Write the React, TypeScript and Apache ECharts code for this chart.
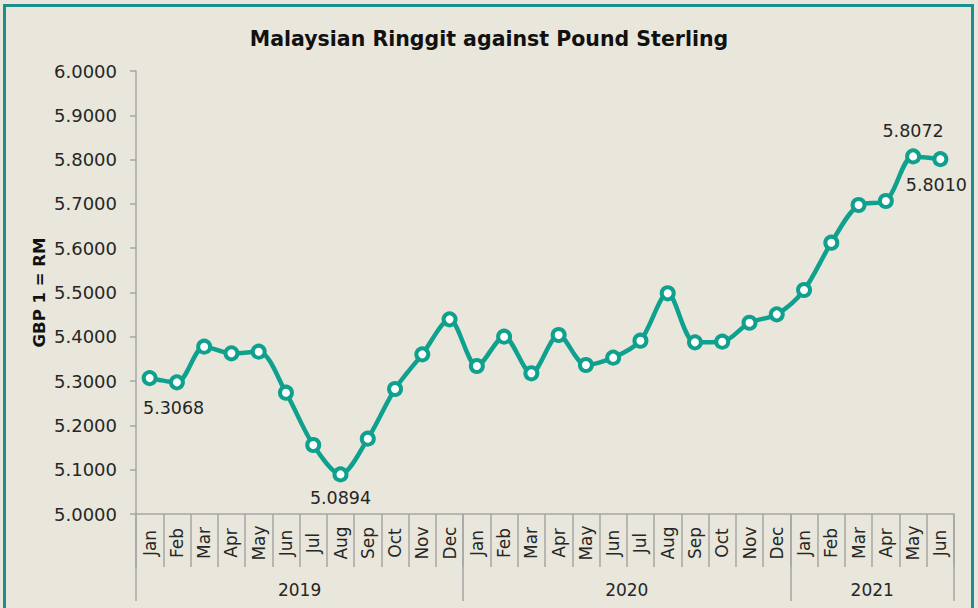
import React, { useEffect, useRef } from "react";
import * as echarts from "echarts";

const months = [
  "Jan", "Feb", "Mar", "Apr", "May", "Jun", "Jul", "Aug", "Sep", "Oct", "Nov", "Dec",
  "Jan", "Feb", "Mar", "Apr", "May", "Jun", "Jul", "Aug", "Sep", "Oct", "Nov", "Dec",
  "Jan", "Feb", "Mar", "Apr", "May", "Jun",
];
const years = ["2019", "2020", "2021"];
const monthsPerYear = [12, 12, 6];
const rates = [
  5.3068, 5.2972, 5.3777, 5.3627, 5.3664, 5.2738, 5.1558, 5.0894, 5.1700, 5.2822, 5.3604, 5.4394,
  5.3340, 5.4003, 5.3176, 5.4040, 5.3363, 5.3529, 5.3912, 5.4982, 5.3875, 5.3890, 5.4318, 5.4507,
  5.5056, 5.6124, 5.6975, 5.7065, 5.8072, 5.8010,
];
const yTicksMin = 5.0;
const yTicksMax = 6.0;
const yTickStep = 0.1;
const labelled: Record<number, { position: string; distance: number; offset?: number[] }> = {
  0: { position: "bottom", distance: 13, offset: [24, 0] },
  7: { position: "bottom", distance: 7 },
  28: { position: "top", distance: 8 },
  29: { position: "bottom", distance: 9, offset: [-4, 0] },
};

const FONT = "DejaVu Sans";
const TEAL = "#0FA18D";
const GREY = "#A6A6A6";
const TXT = "#262626";

export default function App() {
  const ref = useRef<HTMLDivElement>(null);
  useEffect(() => {
    if (!ref.current) return;
    const chart = echarts.init(ref.current, null, { renderer: "svg" });

    const bounds: number[] = [0];
    monthsPerYear.forEach((n) => bounds.push(bounds[bounds.length - 1] + n));
    const mids: number[] = years.map((_, i) => (bounds[i] + bounds[i + 1]) / 2);

    const data = rates.map((v, i) => {
      const spec = labelled[i];
      if (!spec) return { value: v, label: { show: false } };
      return {
        value: v,
        label: {
          show: true,
          position: spec.position,
          distance: spec.distance,
          offset: spec.offset || [0, 0],
          formatter: (p: any) => Number(p.value).toFixed(4),
          fontFamily: FONT,
          fontSize: 17.5,
          color: TXT,
        },
      };
    });

    chart.setOption({
      animation: false,
      backgroundColor: "#E9E6DB",
      title: {
        text: "Malaysian Ringgit against Pound Sterling",
        left: "center",
        top: 23,
        textStyle: { fontFamily: FONT, fontWeight: "bold", fontSize: 20.5, color: "#111" },
      },
      graphic: [
        {
          type: "rect",
          shape: { x: 4.5, y: 5.5, width: 968, height: 700 },
          style: { fill: "none", stroke: "#1B8F8D", lineWidth: 3 },
          silent: true,
        },
      ],
      grid: { left: 136, right: 24, top: 71, bottom: 94, containLabel: false },
      xAxis: [
        {
          type: "category",
          data: months,
          boundaryGap: true,
          position: "bottom",
          axisLine: { show: true, lineStyle: { color: GREY, width: 1.5 } },
          axisTick: { show: true, interval: 0, length: 53, lineStyle: { color: GREY, width: 1.5 } },
          axisLabel: {
            interval: 0,
            rotate: 90,
            align: "center",
            verticalAlign: "middle",
            margin: 29,
            fontFamily: FONT,
            fontSize: 17,
            color: TXT,
          },
          splitLine: { show: false },
        },
        {
          type: "value",
          min: 0,
          max: bounds[bounds.length - 1],
          position: "bottom",
          axisLine: { show: false },
          axisTick: {
            show: true,
            customValues: bounds,
            length: 87,
            lineStyle: { color: GREY, width: 1.5 },
          },
          axisLabel: {
            show: true,
            customValues: mids,
            formatter: (v: number) => {
              const idx = mids.findIndex((m) => Math.abs(m - v) < 1e-6);
              return idx >= 0 ? years[idx] : "";
            },
            verticalAlign: "middle",
            margin: 76,
            fontFamily: FONT,
            fontSize: 17,
            color: TXT,
          },
          splitLine: { show: false },
        },
      ],
      yAxis: {
        type: "value",
        min: yTicksMin,
        max: yTicksMax,
        interval: yTickStep,
        name: "GBP 1 = RM",
        nameLocation: "middle",
        nameGap: 88,
        nameRotate: 90,
        nameMoveOverlap: false,
        nameTextStyle: { fontFamily: FONT, fontWeight: "bold", fontSize: 16.5, color: "#111" },
        axisLine: { show: true, lineStyle: { color: GREY, width: 1.5 } },
        axisTick: { show: true, length: 6, inside: false, lineStyle: { color: GREY, width: 1.5 } },
        axisLabel: {
          formatter: (v: number) => v.toFixed(4),
          margin: 19,
          fontFamily: FONT,
          fontSize: 18,
          color: TXT,
        },
        splitLine: { show: false },
      },
      series: [
        {
          type: "line",
          xAxisIndex: 0,
          data,
          smooth: 0.3,
          symbol: "circle",
          symbolSize: 12,
          lineStyle: { color: TEAL, width: 4.5 },
          itemStyle: { color: "#FFFFFF", borderColor: TEAL, borderWidth: 4 },
          z: 5,
        },
      ],
    });
    return () => chart.dispose();
  }, []);
  return (
    <div
      ref={ref}
      style={{ position: "fixed", left: 0, top: 0, width: 978, height: 608 }}
    />
  );
}
